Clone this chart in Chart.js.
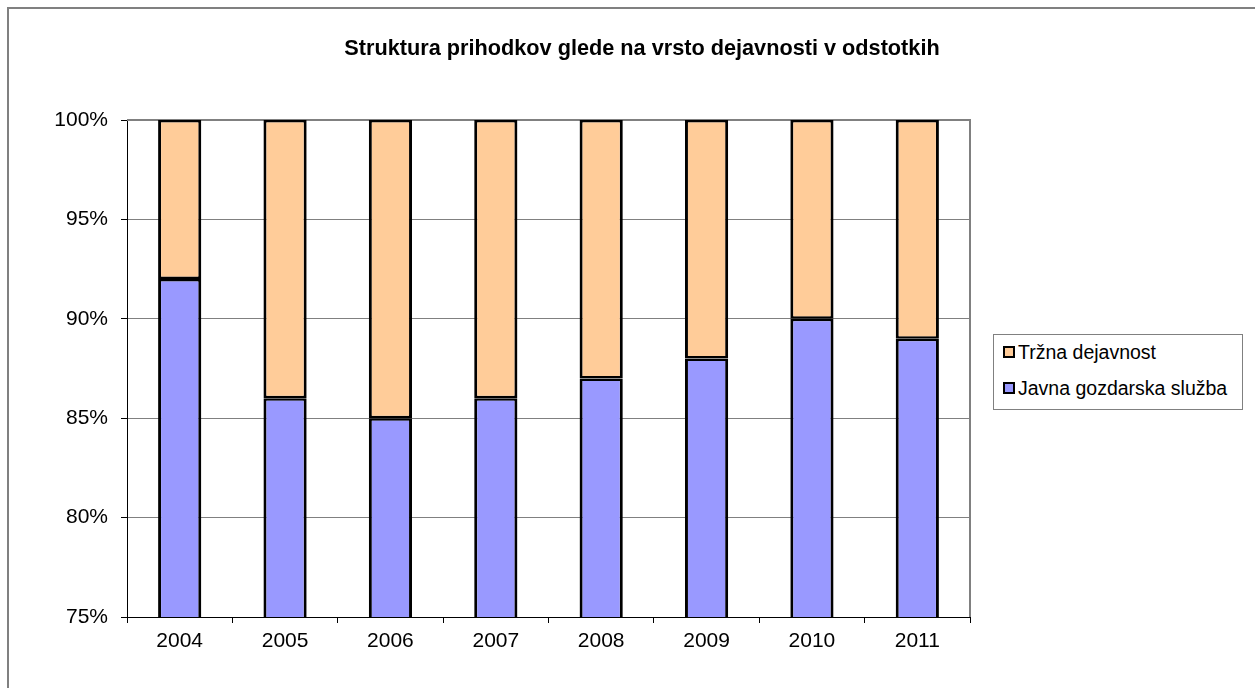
<!DOCTYPE html>
<html>
<head>
<meta charset="utf-8">
<script src="https://cdn.jsdelivr.net/npm/chart.js@4/dist/chart.umd.min.js"></script>
<style>
  html, body { margin: 0; padding: 0; background: #fff; }
  #wrap { position: relative; width: 1255px; height: 688px; overflow: hidden; }
  #frame { position: absolute; left: 7px; top: 7px; width: 1300px; height: 700px;
           border-left: 2px solid #808080; border-top: 2px solid #808080; box-sizing: border-box; }
  #c { position: absolute; left: 0; top: 0; }
  #legend { position: absolute; left: 993px; top: 334px; width: 250px; height: 76px;
            border: 1px solid #808080; box-sizing: border-box; background: #fff;
            font-family: 'Liberation Sans', Arial, sans-serif; font-size: 19.5px; color: #000; }
  #legend div { position: absolute; left: 9px; display: flex; align-items: center; line-height: 22px; }
  #legend span.sw { width: 8px; height: 8px; border: 2px solid #000; margin-right: 3px; display: inline-block; }
</style>
</head>
<body>
<div id="wrap">
  <div id="frame"></div>
  <canvas id="c" width="1255" height="688"></canvas>
  <div id="legend"></div>
</div>
<script>
// data (percent of income)
const years = ['2004', '2005', '2006', '2007', '2008', '2009', '2010', '2011'];
const javnaSluzba = [92, 86, 85, 86, 87, 88, 90, 89];
const trznaDejavnost = [8, 14, 15, 14, 13, 12, 10, 11];
const seriesNames = ['Javna gozdarska služba', 'Tržna dejavnost'];
const seriesColors = ['#9999FF', '#FFCC99'];
const chartTitle = 'Struktura prihodkov glede na vrsto dejavnosti v odstotkih';

const font = "'Liberation Sans', Arial, sans-serif";
const barBorder = { left: 3, right: 3, top: 2.5, bottom: 2.5 };

new Chart(document.getElementById('c'), {
  type: 'bar',
  data: {
    labels: years,
    datasets: [
      { label: seriesNames[0], data: javnaSluzba, backgroundColor: seriesColors[0],
        borderColor: '#000', borderWidth: barBorder, borderSkipped: false, categoryPercentage: 1, barPercentage: 0.41 },
      { label: seriesNames[1], data: trznaDejavnost, backgroundColor: seriesColors[1],
        borderColor: '#000', borderWidth: barBorder, borderSkipped: false, categoryPercentage: 1, barPercentage: 0.41 },
    ],
  },
  options: {
    responsive: false,
    animation: false,
    layout: { padding: { left: 0, right: 285, top: 120, bottom: 0 } },
    plugins: {
      legend: { display: false },
      tooltip: { enabled: false },
      title: { display: false },
    },
    scales: {
      x: {
        stacked: true,
        offset: true,
        grid: { offset: true, drawOnChartArea: false, drawTicks: true, tickLength: 6, color: '#000' },
        border: { color: '#000', width: 1 },
        ticks: { color: '#000', font: { family: font, size: 21 }, padding: 6 },
        afterFit: s => { s.height = 71; },
      },
      y: {
        stacked: true,
        min: 75,
        max: 100,
        ticks: { stepSize: 5, color: '#000', font: { family: font, size: 21 }, padding: 13,
                 callback: v => v + '%' },
        grid: { color: '#808080', tickLength: 6, tickColor: '#000' },
        border: { color: '#000', width: 1 },
        afterFit: s => { s.width = 127; },
      },
    },
  },
  plugins: [{
    id: 'frameAndTitle',
    beforeDatasetsDraw(chart) {
      // plot area top and right edge, under the bars
      const a = chart.chartArea, ctx = chart.ctx;
      ctx.save();
      ctx.strokeStyle = '#808080';
      ctx.lineWidth = 2;
      ctx.beginPath();
      ctx.moveTo(a.left, a.top);
      ctx.lineTo(a.right, a.top);
      ctx.lineTo(a.right, a.bottom);
      ctx.stroke();
      ctx.restore();
    },
    afterDraw(chart) {
      // title, centred on the whole chart
      const ctx = chart.ctx;
      ctx.save();
      ctx.fillStyle = '#000';
      ctx.font = 'bold 21.7px ' + font;
      ctx.textAlign = 'center';
      ctx.textBaseline = 'middle';
      ctx.fillText(chartTitle, 642, 49);
      ctx.restore();
    },
  }],
});

// legend, top entry is the upper series
const leg = document.getElementById('legend');
[1, 0].forEach((i, row) => {
  const d = document.createElement('div');
  d.style.top = (row === 0 ? 6 : 42) + 'px';
  d.innerHTML = '<span class="sw" style="background:' + seriesColors[i] + '"></span>' + seriesNames[i];
  leg.appendChild(d);
});
</script>
</body>
</html>
